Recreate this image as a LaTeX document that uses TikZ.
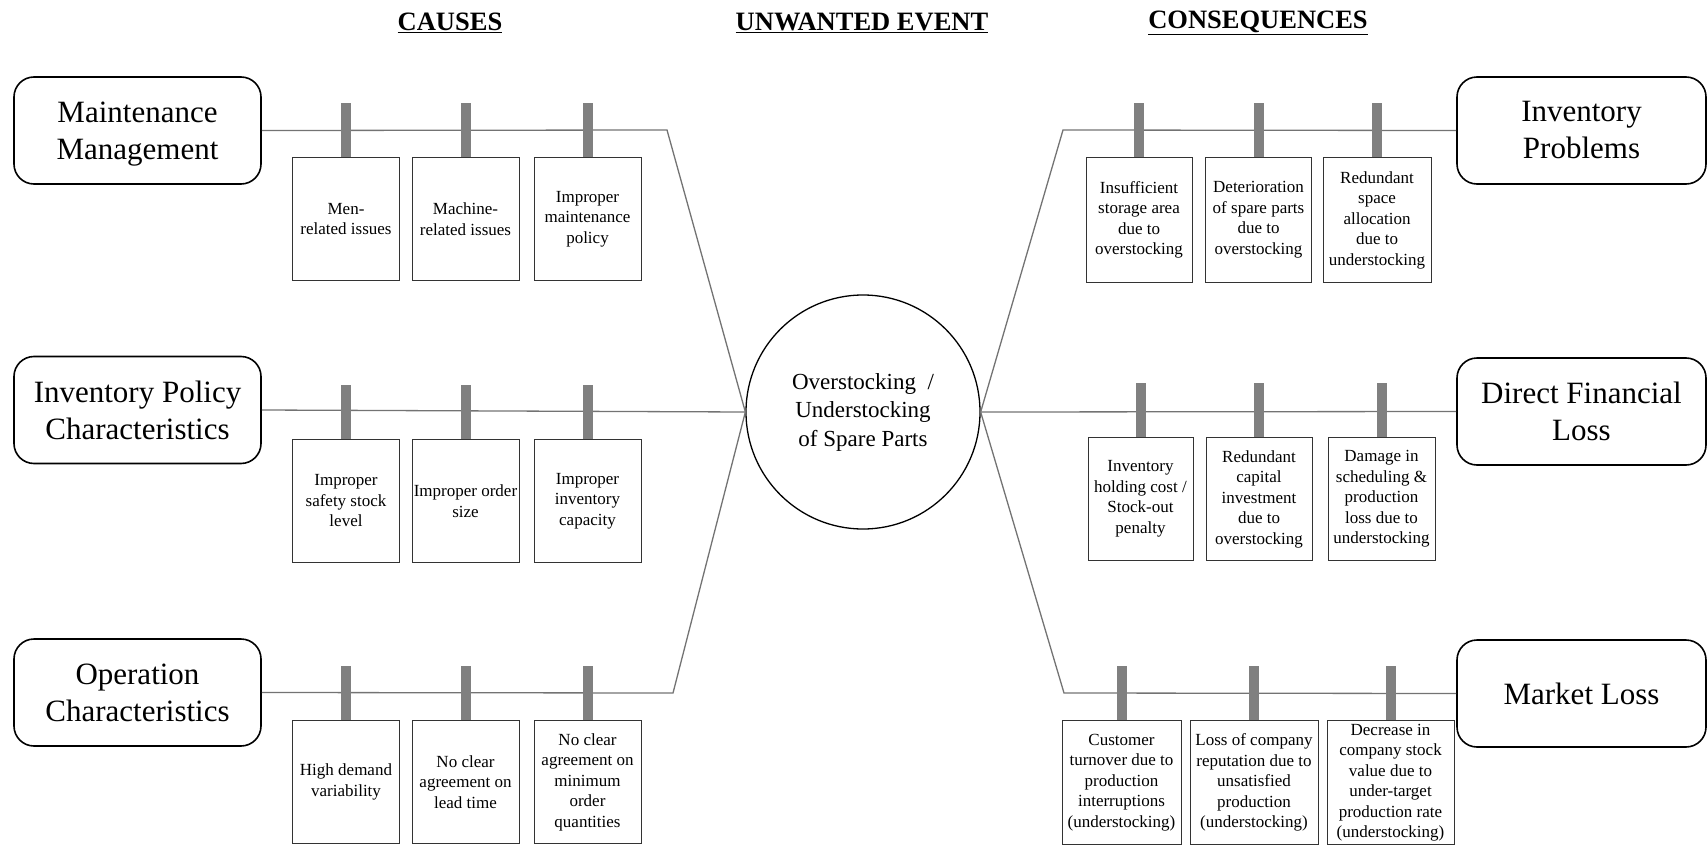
\documentclass[tikz,border=0pt]{standalone}
\usepackage{fontspec}
\setmainfont{LiberationSerif}[Extension=.ttf, UprightFont=*-Regular, BoldFont=*-Bold, ItalicFont=*-Italic, BoldItalicFont=*-BoldItalic]
\usetikzlibrary{positioning}

\begin{document}
\begin{tikzpicture}[
  x=1pt, y=-1pt,
  title/.style = {font=\fontsize{26.5}{30}\selectfont\bfseries, inner sep=0pt},
  group/.style = {draw, line width=1.6pt, rounded corners=20pt, minimum width=247pt, minimum height=107pt, align=center, font=\fontsize{31}{37}\selectfont},
  event/.style = {draw, circle, line width=1.3pt, minimum size=234pt, inner sep=0pt, align=center, font=\fontsize{23}{28.5}\selectfont},
  card/.style  = {draw=black!80, line width=0.9pt, minimum width=107pt, minimum height=123pt, inner sep=0pt, anchor=north, align=center, font=\fontsize{17}{20.5}\selectfont},
  spine/.style = {draw=black!55, line width=1.3pt},
  peg/.style   = {draw=black!50, line width=10pt},
]
  \useasboundingbox (0,0) rectangle (1708,851);

  % headings
  \node[title] (tcause) at (450,23)  {\underline{CAUSES}};
  \node[title] (tevent) at (862,23)  {\underline{UNWANTED EVENT}};
  \node[title] (tcons)  at (1258,23) {\underline{CONSEQUENCES}};

  % centre
  \node[event] (event) at (863,412) {Overstocking~~/\\Understocking\\of Spare Parts};

  % cause groups
  \node[group] (mm)  at (137.5,130.5) {Maintenance\\\raisebox{0pt}[\height][0pt]{Management}};
  \node[group] (ipc) at (137.5,410)   {Inventory Policy\\Characteristics};
  \node[group] (oc)  at (137.5,692.5) {Operation\\Characteristics};

  % consequence groups
  \node[group, minimum width=249pt] (ip)  at (1581.5,130.5) {Inventory\\Problems};
  \node[group, minimum width=249pt] (dfl) at (1581.5,411.5) {Direct Financial\\Loss};
  \node[group, minimum width=249pt] (ml)  at (1581.5,693.5) {Market Loss};

  % cause cards
  \node[card] (c11) at (346,157)   {Men-\\related issues};
  \node[card] (c12) at (465.5,157) {Machine-\\related issues};
  \node[card] (c13) at (587.5,157) {Improper\\maintenance\\policy};
  \node[card] (c21) at (346,439)   {Improper\\safety stock\\level};
  \node[card] (c22) at (465.5,439) {Improper order\\size};
  \node[card] (c23) at (587.5,439) {Improper\\inventory\\capacity};
  \node[card] (c31) at (346,720)   {High demand\\variability};
  \node[card] (c32) at (465.5,720) {No clear\\agreement on\\lead time};
  \node[card] (c33) at (587.5,720) {No clear\\agreement on\\minimum\\order\\quantities};

  % consequence cards
  \node[card, minimum width=106pt, minimum height=125pt] (q11) at (1139,157)   {Insufficient\\storage area\\due to\\overstocking};
  \node[card, minimum width=106pt, minimum height=125pt] (q12) at (1258.5,157) {Deterioration\\of spare parts\\due to\\overstocking};
  \node[card, minimum width=108pt, minimum height=125pt] (q13) at (1377,157)   {Redundant\\space\\allocation\\due to\\understocking};
  \node[card, minimum width=105pt] (q21) at (1140.5,437) {Inventory\\holding cost /\\Stock-out\\penalty};
  \node[card, minimum width=106pt] (q22) at (1259,437)   {Redundant\\capital\\investment\\due to\\overstocking};
  \node[card, minimum width=107pt] (q23) at (1381.5,437) {Damage in\\scheduling \&\\production\\loss due to\\understocking};
  \node[card, minimum width=119pt, minimum height=124pt] (q31) at (1121.5,720) {Customer\\turnover due to\\production\\interruptions\\(understocking)};
  \node[card, minimum width=128pt, minimum height=124pt] (q32) at (1254,720)   {Loss of company\\reputation due to\\unsatisfied\\production\\(understocking)};
  \node[card, minimum width=127pt, minimum height=124pt] (q33) at (1390.5,720) {Decrease in\\company stock\\value due to\\under-target\\production rate\\(understocking)};

  % bends of the spines
  \coordinate (kc1) at (667,130);
  \coordinate (kc3) at (673,693);
  \coordinate (kq1) at (1063,130);
  \coordinate (kq3) at (1064,693);

  \draw[spine] (mm.east)  -- (kc1) -- (event.west);
  \draw[spine] (ipc.east) -- (event.west);
  \draw[spine] (oc.east)  -- (kc3) -- (event.west);
  \draw[spine] (event.east) -- (kq1) -- (ip.west);
  \draw[spine] (event.east) -- (dfl.west);
  \draw[spine] (event.east) -- (kq3) -- (ml.west);

  % pegs
  \foreach \c in {c11,c12,c13,c21,c22,c23,c31,c32,c33,q11,q12,q13,q21,q22,q23,q31,q32,q33}
    \draw[peg] (\c.north) -- ++(0,-54);
\end{tikzpicture}
\end{document}
